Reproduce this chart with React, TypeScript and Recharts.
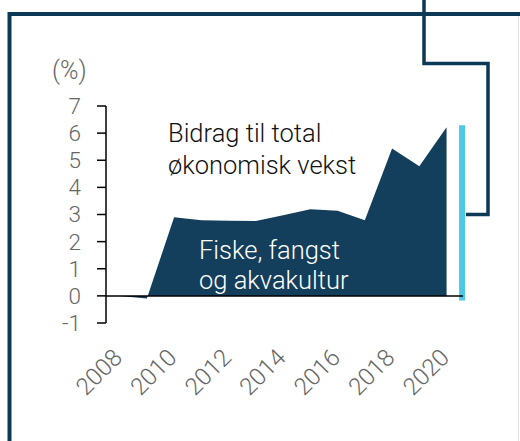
import React from "react";
import { Area, ComposedChart, ReferenceArea, ReferenceLine, XAxis, YAxis } from "recharts";

document.body.style.margin = "0";

const years = [2008, 2009, 2010, 2011, 2012, 2013, 2014, 2015, 2016, 2017, 2018, 2019, 2020];
const values = [0, -0.1, 2.9, 2.79, 2.77, 2.76, 2.97, 3.19, 3.14, 2.79, 5.43, 4.78, 6.22];
const yTicks = [-1, 0, 1, 2, 3, 4, 5, 6, 7];
const xTicks = [2008, 2010, 2012, 2014, 2016, 2018, 2020];

const data = years.map((year, i) => ({ year, value: values[i] }));

const NAVY = "#133e5c";
const FRAME = "#0c3a56";
const BLUE = "#4ec8e9";
const GREY = "#666";
const FONT = "Roboto, 'Liberation Sans', sans-serif";

function YearTick(props: any) {
  const { x, y, payload } = props;
  const tx = x + 4;
  const ty = y + 36;
  return (
    <text
      x={tx}
      y={ty}
      transform={`rotate(-45, ${tx}, ${ty})`}
      textAnchor="end"
      fill={GREY}
      fontSize={24}
      fontWeight={300}
      fontFamily={FONT}
    >
      {payload.value}
    </text>
  );
}

export default function App() {
  return (
    <div style={{ position: "relative", width: 520, height: 441, background: "#fff", overflow: "hidden" }}>
      <ComposedChart
        width={520}
        height={441}
        data={data}
        margin={{ top: 106, right: 53, bottom: 38, left: 0 }}
        style={{ position: "absolute", left: 0, top: 0 }}
      >
        <XAxis
          dataKey="year"
          type="number"
          domain={[2007.5, 2020.75]}
          ticks={xTicks}
          height={80}
          axisLine={false}
          tickLine={false}
          tickSize={0}
          tickMargin={0}
          tick={<YearTick />}
          interval={0}
        />
        <YAxis
          domain={[-1, 7]}
          ticks={yTicks}
          width={106}
          axisLine={{ stroke: "#000", strokeWidth: 1.5 }}
          tickLine={{ stroke: "#000", strokeWidth: 1.5 }}
          tickSize={9}
          tickMargin={16}
          tick={{ fill: GREY, fontSize: 22.5, fontWeight: 300, fontFamily: FONT }}
          interval={0}
        />
        <Area
          type="linear"
          dataKey="value"
          stroke="none"
          fill={NAVY}
          fillOpacity={1}
          isAnimationActive={false}
        />
        <ReferenceLine
          segment={[
            { x: 2007.5, y: 0 },
            { x: 2020.6, y: 0 },
          ]}
          stroke="#000"
          strokeWidth={1.5}
        />
        <ReferenceArea x1={2020.46} x2={2020.68} y1={-0.17} y2={6.29} fill={BLUE} fillOpacity={1} stroke="none" />
      </ComposedChart>
      <svg
        width={520}
        height={441}
        style={{ position: "absolute", left: 0, top: 0, pointerEvents: "none" }}
        fontFamily={FONT}
        fontWeight={300}
      >
        <line x1={518.5} y1={16} x2={518.5} y2={441} stroke="#e2e2e2" strokeWidth={1} />
        <polyline points="9.5,441 9.5,14 520,14" fill="none" stroke={FRAME} strokeWidth={4} />
        <polyline points="424,0 424,63.5 488,63.5 488,214.5 466,214.5" fill="none" stroke={FRAME} strokeWidth={3.5} />
        <text x={52} y={79} fill={GREY} fontSize={25}>(%)</text>
        <text x={168} y={142} fill="#111" fontSize={25.5}>Bidrag til total</text>
        <text x={168} y={173.5} fill="#111" fontSize={25.5}>økonomisk vekst</text>
        <text x={199} y={258.5} fill="#fff" fontSize={25.5}>Fiske, fangst</text>
        <text x={199} y={288.5} fill="#fff" fontSize={25.5}>og akvakultur</text>
      </svg>
    </div>
  );
}
